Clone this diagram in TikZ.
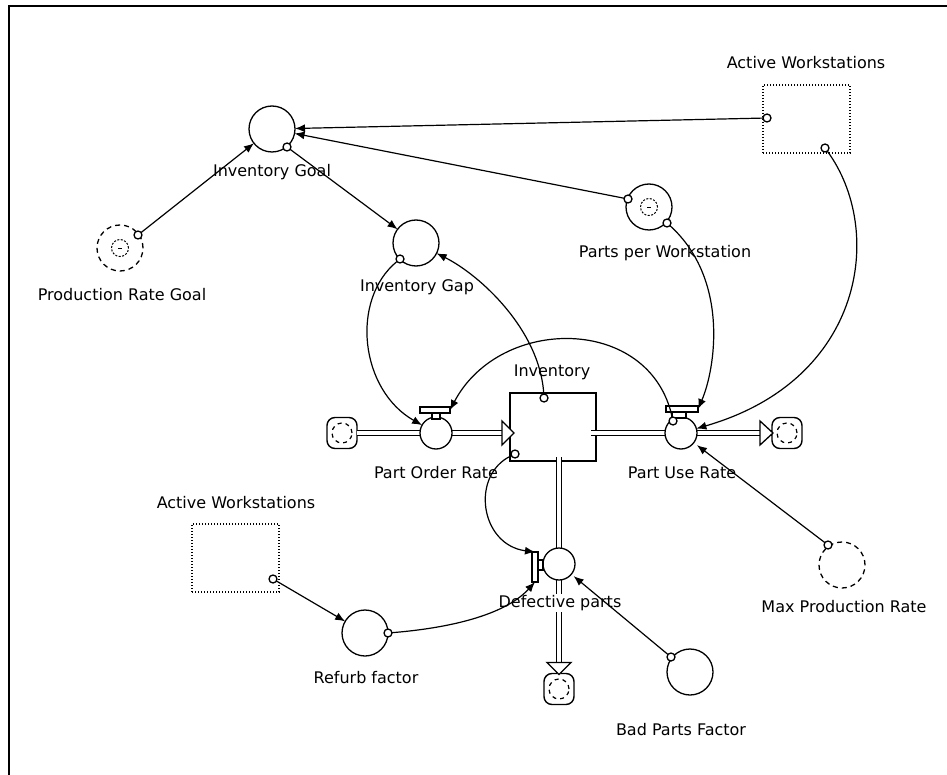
\documentclass[tikz,border=0pt]{standalone}
\usepackage{fontspec}
\setmainfont{DejaVu Sans}
\usetikzlibrary{arrows.meta,calc}
\begin{document}
\begin{tikzpicture}[x=1pt,y=-1pt,
  every node/.style={inner sep=0pt,outer sep=0pt},
  lbl/.style={font=\fontsize{16}{19}\selectfont},
  aux/.style={circle,draw,line width=1.3pt,minimum size=46pt},
  ghostaux/.style={aux,dash pattern=on 5pt off 4pt},
  ghostmark/.style={circle,draw,line width=1pt,dash pattern=on 2pt off 1.5pt,minimum size=17pt},
  port/.style={circle,draw,fill=white,line width=1.3pt,minimum size=8pt},
  stockbox/.style={rectangle,draw,line width=1.6pt,minimum width=86pt,minimum height=68pt},
  valve/.style={circle,draw,fill=white,line width=1.3pt,minimum size=32pt},
  handle/.style={rectangle,draw,fill=white,line width=1.5pt},
  stem/.style={rectangle,draw,fill=white,line width=1.2pt,minimum width=8pt,minimum height=6pt},
  constbox/.style={rectangle,draw,line width=1.2pt,dash pattern=on 1.2pt off 1.8pt,minimum width=87pt,minimum height=68pt},
  cloudbox/.style={rectangle,draw,fill=white,rounded corners=8pt,line width=1.4pt,minimum width=30pt,minimum height=31pt},
  cloudmark/.style={line width=1.2pt,dash pattern=on 4pt off 4pt},
  link/.style={line width=1.2pt,-{Latex[length=10pt,width=8pt]}},
  pipe/.style={line width=1.3pt,double,double distance=4pt},
  flowhead/.style={draw,fill=white,line width=1.3pt},
]
\useasboundingbox (0,0) rectangle (947,775);
% window frame
\draw[line width=2pt] (9,775) -- (9,6) -- (947,6);

% ---- stock, clouds and pipes
\node[stockbox] (inv) at (553,427) {};
\node[lbl] (invl) at (552,372) {Inventory};
\node[cloudbox] (src) at (342,433) {};
\node[cloudbox] (snk) at (787,433) {};
\node[cloudbox] (dsnk) at (559,689) {};
\foreach \c in {src,snk,dsnk} \draw[cloudmark] (\c.center) circle[radius=10pt];
\coordinate (inlet) at (inv.west |- src);
\coordinate (outlet) at ($(inv.east |- snk)+(-5,0)$);
\coordinate (dout) at ($(inv.south)+(6,-4)$);
\draw[pipe] (src) -- (inlet);
\draw[pipe] (outlet) -- (snk);
\draw[pipe] (dout) -- (dout |- dsnk.north);
\draw[flowhead] ($(inlet)+(-8,-12)$) -- ($(inlet)+(4,0)$) -- ($(inlet)+(-8,12)$) -- cycle;
\draw[flowhead] ($(snk.west)+(-12,-12)$) -- ($(snk.west)+(1,0)$) -- ($(snk.west)+(-12,12)$) -- cycle;
\draw[flowhead] ($(dsnk.north)+(-12,-11)$) -- ($(dsnk.north)+(0,1)$) -- ($(dsnk.north)+(12,-11)$) -- cycle;
\node[port] (invp1) at (544,398) {};
\node[port] (invp2) at (515,454) {};

% ---- flows (valves)
\node[valve] (por) at (436,433) {};
\node[stem] (pors) at (436,416) {};
\node[handle,minimum width=30pt,minimum height=6pt] (porh) at (435,410) {};
\node[lbl] (porl) at (436,473) {Part Order Rate};

\node[valve] (pur) at (681,433) {};
\node[stem,minimum width=14pt] (purs) at (679,415) {};
\node[handle,minimum width=32pt,minimum height=6pt] (purh) at (682,409) {};
\node[port] (purp) at (673,421) {};
\node[lbl] (purl) at (682,473) {Part Use Rate};

\node[valve] (dp) at (559,564) {};
\node[stem,minimum width=6pt,minimum height=10pt] (dps) at (540,565) {};
\node[handle,minimum width=6pt,minimum height=30pt] (dph) at (535,567) {};
\node[lbl,fill=white,inner sep=1pt] (dpl) at (560,603) {Defective parts};

% ---- converters
\node[aux] (ig) at (272,129) {};
\node[port] (igp) at (287,147) {};
\node[lbl] (igl) at (272,172) {Inventory Goal};

\node[ghostaux] (prg) at (120,248) {};
\node[ghostmark] (prgm) at (prg) {};
\draw[line width=1pt] ($(prg)+(-2,1)$) -- ($(prg)+(2,1)$);
\node[port] (prgp) at (138,235) {};
\node[lbl] (prgl) at (122,295) {Production Rate Goal};

\node[constbox] (aw1) at (806.5,119) {};
\node[port] (aw1a) at (767,118) {};
\node[port] (aw1b) at (825,148) {};
\node[lbl] (aw1l) at (806,63) {Active Workstations};

\node[aux] (ppw) at (649,207) {};
\node[ghostmark] (ppwm) at (ppw) {};
\draw[line width=1pt] ($(ppw)+(-2,1)$) -- ($(ppw)+(2,1)$);
\node[port] (ppwa) at (628,199) {};
\node[port] (ppwb) at (667,223) {};
\node[lbl] (ppwl) at (665,253) {Parts per Workstation};

\node[aux] (gap) at (416,243) {};
\node[port] (gapp) at (400,259) {};
\node[lbl] (gapl) at (417,287) {Inventory Gap};

\node[ghostaux] (mpr) at (842,565) {};
\node[port] (mprp) at (828,545) {};
\node[lbl] (mprl) at (844,607) {Max Production Rate};

\node[constbox] (aw2) at (235.5,558) {};
\node[port] (aw2p) at (273,579) {};
\node[lbl] (aw2l) at (236,503) {Active Workstations};

\node[aux] (rf) at (365,633) {};
\node[port] (rfp) at (388,633) {};
\node[lbl] (rfl) at (366,678) {Refurb factor};

\node[aux] (bpf) at (690,672) {};
\node[port] (bpfp) at (671,657) {};
\node[lbl] (bpfl) at (681,730) {Bad Parts Factor};

% ---- connectors
\draw[link] (prgp) -- (ig);
\draw[link] (aw1a) -- (ig);
\draw[link] (ppwa) -- (ig);
\draw[link] (igp) -- (gap);
\draw[link] (invp1) .. controls (540,330) and (480,275) .. (gap);
\draw[link] (gapp) .. controls (350,300) and (360,390) .. (por);
\draw[link] (purp) .. controls (650,315) and (500,315) .. (porh.east);
\draw[link] (ppwb) .. controls (730,280) and (715,370) .. (purh.east);
\draw[link] (aw1b) .. controls (885,230) and (865,380) .. (pur);
\draw[link,shorten >=4pt] (mprp) -- (pur);
\draw[link] (invp2) .. controls (470,475) and (480,545) .. (dph.north);
\draw[link] (aw2p) -- (rf);
\draw[link] (rfp) .. controls (450,628) and (505,615) .. (dph.south);
\draw[link,shorten >=3pt] (bpfp) -- (dp);
\end{tikzpicture}
\end{document}
